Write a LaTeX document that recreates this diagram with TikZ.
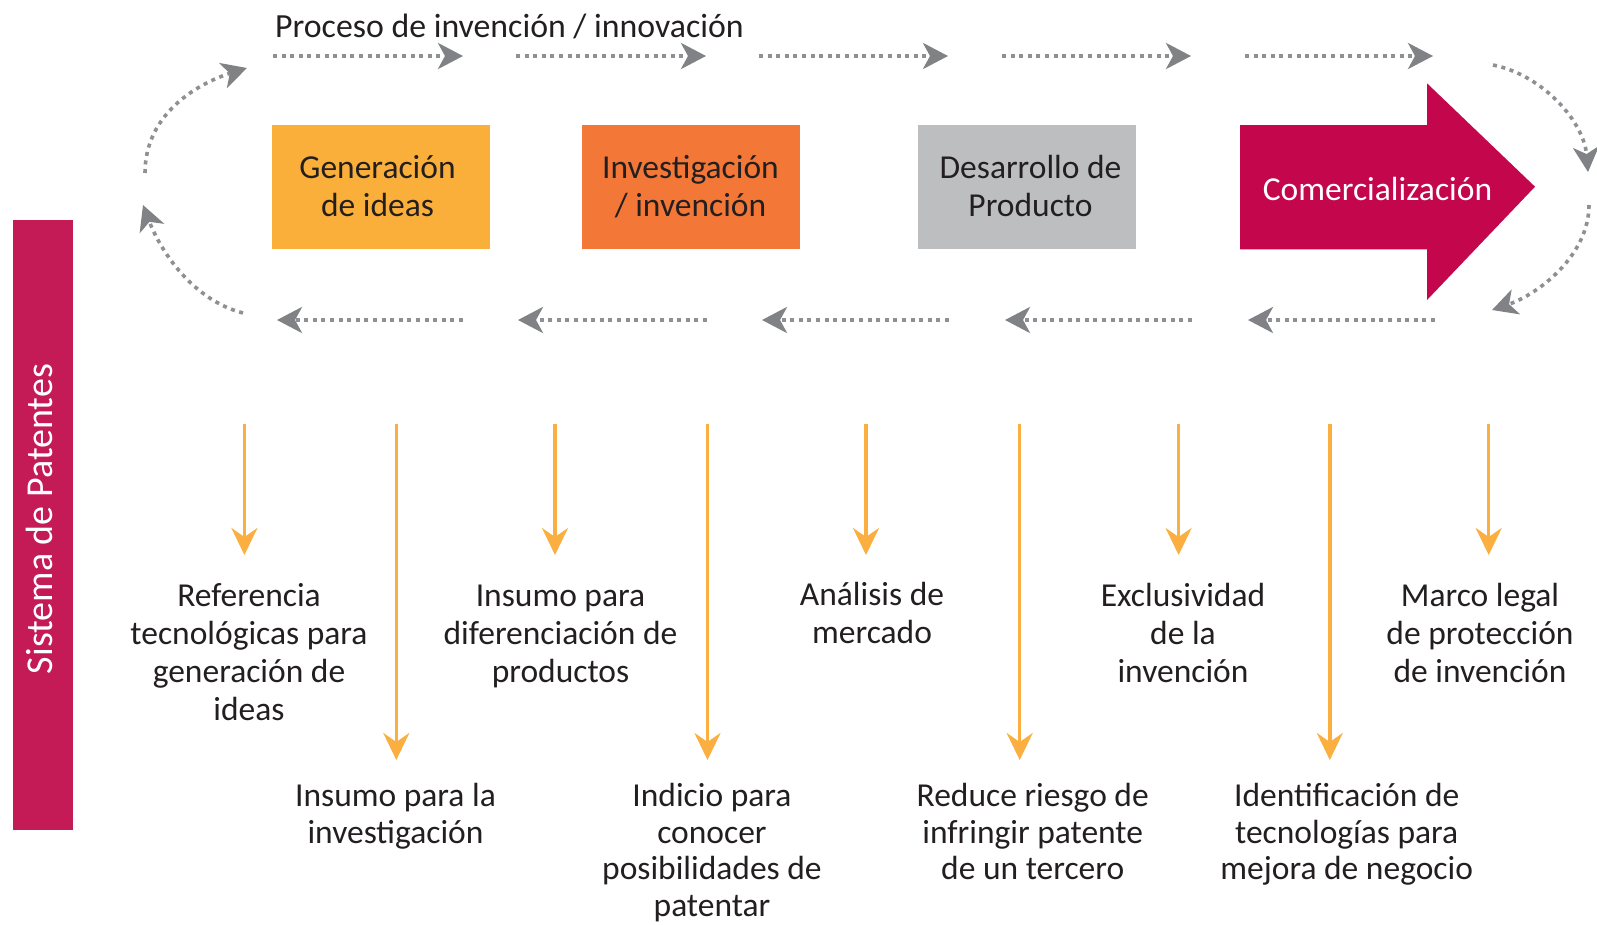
\documentclass[tikz,border=0pt]{standalone}
\usepackage{fontspec}
\setmainfont{Carlito}
\usetikzlibrary{arrows.meta}
\definecolor{ctext}{HTML}{231F20}
\definecolor{cgen}{HTML}{FAAF3B}
\definecolor{cinv}{HTML}{F37736}
\definecolor{cdes}{HTML}{BCBEC0}
\definecolor{ccom}{HTML}{C4074C}
\definecolor{cbar}{HTML}{C41A55}
\definecolor{corg}{HTML}{FAAF40}
\definecolor{cdot}{HTML}{8E9093}
\definecolor{chead}{HTML}{808285}
\newcommand{\mylines}[1]{\begin{tabular}[t]{@{}c@{}}#1\end{tabular}}
\begin{document}
\begin{tikzpicture}[x=1pt,y=-1pt,
  txt/.style={font=\fontsize{33.5}{38}\selectfont, text=ctext, inner sep=0pt, anchor=base},
  lowtxt/.style={font=\fontsize{33.5}{36.5}\selectfont, text=ctext, inner sep=0pt, anchor=base},
  boxshape/.style={minimum width=218pt, minimum height=124.5pt, inner sep=0pt},
  dotarr/.style={draw=cdot, line width=3.6pt, dash pattern=on 4pt off 4.6pt, -{Stealth[length=25pt,width=26pt,inset=7pt,color=chead]}},
  orgarr/.style={draw=corg, line width=3.5pt, -{Stealth[length=27pt,width=26pt,inset=9pt]}},
]
\useasboundingbox (0,0) rectangle (1597,924);
\fill[white] (0,0) rectangle (1597,924);

% title
\node[txt, font=\fontsize{33.8}{38}\selectfont, anchor=base west] (title) at (275,37.3) {Proceso de invención / innovación};

% stage boxes
\node[boxshape, fill=cgen] (gen) at (381,187) {};
\node[txt] (gent) at (377.5,178.5) {\mylines{Generación\\de ideas}};
\node[boxshape, fill=cinv] (inv) at (690.5,187) {};
\node[txt] (invt) at (690.5,178.5) {\mylines{Investigación\\/ invención}};
\node[boxshape, fill=cdes] (des) at (1026.7,187) {};
\node[txt] (dest) at (1030.5,178.5) {\mylines{Desarrollo de\\Producto}};
\fill[ccom] (1240,125) -- (1427,125) -- (1427,83.3) -- (1535,186.7) -- (1427,300) -- (1427,249.3) -- (1240,249.3) -- cycle;
\node[txt, text=white] (com) at (1377.5,200) {Comercialización};

% side bar
\fill[cbar] (13.3,220) rectangle (72.7,830);
\node[txt, font=\fontsize{38}{44}\selectfont, text=white, rotate=90] (bar) at (52.7,519) {Sistema de Patentes};

% dotted arrows top
\foreach \i/\a/\b in {1/273/463, 2/516/706, 3/759/948, 4/1002/1191, 5/1245/1433} {
  \coordinate (ts\i) at (\a,56);
  \coordinate (te\i) at (\b,56);
  \draw[dotarr] (ts\i) -- (te\i);
}
% dotted arrows bottom
\foreach \i/\a/\b in {1/463/277, 2/707/518, 3/949/762, 4/1192/1005, 5/1435/1248} {
  \coordinate (bs\i) at (\a,320);
  \coordinate (be\i) at (\b,320);
  \draw[dotarr] (bs\i) -- (be\i);
}
% curved loops
\coordinate (lt1) at (145,173); \coordinate (lt2) at (247,68);
\draw[dotarr] (lt1) .. controls (145,113) and (199,83) .. (lt2);
\coordinate (lb1) at (243,313); \coordinate (lb2) at (143,205);
\draw[dotarr] (lb1) .. controls (193,300) and (161,252) .. (lb2);
\coordinate (rt1) at (1493,65); \coordinate (rt2) at (1588,172);
\draw[dotarr] (rt1) .. controls (1543,75) and (1584,122) .. (rt2);
\coordinate (rb1) at (1589,205); \coordinate (rb2) at (1492,310);
\draw[dotarr] (rb1) .. controls (1589,255) and (1539,294) .. (rb2);

% orange arrows
\foreach \i/\x in {1/244.4, 3/555, 5/866, 7/1178.6, 9/1488.7} {
  \coordinate (os\i) at (\x,424);
  \coordinate (oe\i) at (\x,555);
  \draw[orgarr] (os\i) -- (oe\i);
}
\foreach \i/\x in {2/396.3, 4/707.5, 6/1019.7, 8/1329.8} {
  \coordinate (os\i) at (\x,424);
  \coordinate (oe\i) at (\x,760);
  \draw[orgarr] (os\i) -- (oe\i);
}

% benefit texts
\node[txt] (t1) at (249,606) {\mylines{Referencia\\tecnológicas para\\generación de\\ideas}};
\node[txt] (t3) at (560.5,606) {\mylines{Insumo para\\diferenciación de\\productos}};
\node[txt] (t5) at (872,605) {\mylines{Análisis de\\mercado}};
\node[txt] (t7) at (1183,606) {\mylines{Exclusividad\\de la\\invención}};
\node[txt] (t9) at (1480,606) {\mylines{Marco legal\\de protección\\de invención}};
\node[lowtxt] (t2) at (395.5,806.7) {\mylines{Insumo para la\\investigación}};
\node[lowtxt] (t4) at (712,806.7) {\mylines{Indicio para\\conocer\\posibilidades de\\patentar}};
\node[lowtxt] (t6) at (1032.7,806.7) {\mylines{Reduce riesgo de\\infringir patente\\de un tercero}};
\node[lowtxt] (t8) at (1346.7,806.7) {\mylines{Identificación de\\tecnologías para\\mejora de negocio}};
\end{tikzpicture}
\end{document}
